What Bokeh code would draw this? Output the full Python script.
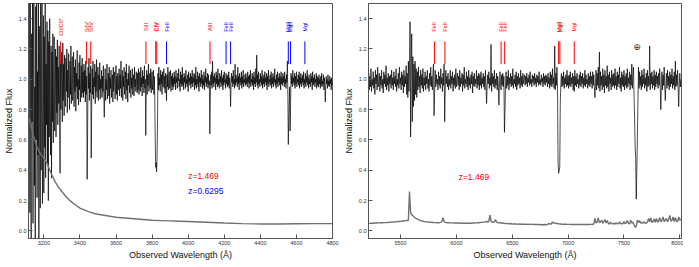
import numpy as np
from bokeh.plotting import figure
from bokeh.layouts import row
from bokeh.models import Range1d, FixedTicker, Label, ColumnDataSource, PrintfTickFormatter
from bokeh.embed import file_html
from bokeh.resources import INLINE
from bokeh.core.properties import value

FONT = "Liberation Sans"

# ---------------- data: left panel (blue arm) ----------------
left_wl_start, left_wl_step = 3120, 2.5
left_flux = [
    1.62, 0.12, 1.85, 0.45, -0.08, 1.30, 0.72, 1.55, 0.05, 1.20, 1.75, 0.30, 0.95, -0.10, 1.48, 0.60, 1.90, 0.22, 1.05, 0.50,
    1.68, -0.05, 1.35, 0.80, 0.15, 1.58, 0.40, 1.15, 1.72, 0.18, 0.88, 1.42, 0.25, 1.28, 0.55, 1.50, 0.35, 1.10, 0.70, 1.38,
    0.45, 1.32, 0.20, 1.25, 0.62, 1.40, 0.85, 0.50, 1.22, 0.35, 1.18, 0.72, 1.30, 0.58, 1.05, 1.28, 0.66, 0.90, 1.20, 0.62,
    1.15, 0.78, 1.26, 0.70, 1.08, 0.84, 1.22, 0.74, 0.38, 1.12, 0.80, 1.18, 0.95, 0.72, 1.24, 0.86, 1.10, 0.76, 1.16, 0.88,
    0.82, 1.14, 0.92, 1.20, 0.78, 1.06, 0.88, 1.17, 0.96, 0.80, 1.12, 0.90, 1.22, 0.84, 1.02, 1.15, 0.86, 0.94, 1.18, 0.82,
    1.08, 0.92, 1.13, 0.79, 1.04, 0.95, 1.19, 0.87, 1.00, 0.83, 1.11, 0.93, 1.16, 0.85, 0.98, 1.09, 0.88, 1.14, 0.91, 1.05,
    0.88, 1.10, 0.92, 1.06, 0.85, 1.12, 0.90, 1.02, 0.34, 0.62, 1.08, 0.94, 1.14, 0.86, 1.04, 0.91, 1.09, 0.48, 0.80, 1.07,
    0.90, 1.12, 0.87, 1.01, 0.95, 1.10, 0.84, 1.05, 0.92, 1.13, 0.88, 0.99, 1.08, 0.86, 1.03, 0.93, 1.11, 0.87, 1.00, 0.94,
    1.06, 0.88, 1.02, 0.92, 1.09, 0.90, 0.75, 0.95, 1.07, 0.86, 1.00, 0.93, 1.10, 0.87, 0.97, 1.04, 0.89, 1.08, 0.84, 1.01,
    0.94, 1.06, 0.88, 0.98, 1.03, 0.85, 1.08, 0.92, 0.99, 1.05, 0.87, 0.96, 1.09, 0.90, 1.02, 0.86, 1.04, 0.93, 0.98, 1.07,
    0.89, 1.03, 0.94, 1.12, 0.88, 0.99, 1.06, 0.86, 1.02, 0.95, 1.08, 0.90, 0.97, 1.05, 0.87, 1.10, 0.93, 1.00, 0.85, 1.04,
    0.96, 1.09, 0.91, 0.98, 1.06, 0.88, 1.01, 0.94, 1.07, 0.90, 0.97, 1.03, 0.89, 1.08, 0.95, 1.00, 0.92, 1.05, 0.97, 0.91,
    1.04, 0.93, 1.07, 0.90, 0.99, 1.05, 0.92, 1.08, 0.95, 1.01, 0.89, 1.06, 0.97, 1.02, 0.91, 1.09, 0.94, 1.00, 0.63, 0.93,
    1.06, 0.90, 1.03, 0.96, 1.10, 0.92, 0.99, 1.04, 0.94, 1.07, 0.91, 1.00, 1.05, 0.93, 0.98, 1.06, 0.90, 1.02, 0.88, 0.60,
    0.42, 0.45, 0.39, 0.48, 0.70, 1.04, 0.93, 1.08, 0.96, 1.01, 0.92, 1.06, 0.97, 1.03, 0.90, 1.05, 0.95, 0.99, 1.07, 0.94,
    1.02, 0.91, 1.04, 0.97, 0.86, 1.03, 0.95, 1.08, 0.93, 1.00, 1.05, 0.94, 0.98, 1.06, 0.92, 1.02, 0.96, 1.04, 0.93, 1.01,
    0.95, 1.05, 0.97, 1.02, 0.93, 1.06, 0.98, 1.01, 0.94, 1.04, 0.99, 1.07, 0.95, 1.00, 0.92, 1.05, 0.97, 1.03, 0.95, 1.08,
    0.96, 1.01, 0.93, 1.04, 0.98, 1.02, 0.94, 1.06, 0.97, 1.00, 0.95, 1.03, 0.92, 1.05, 0.98, 1.01, 0.96, 1.04, 0.94, 1.02,
    0.97, 1.06, 0.95, 1.01, 0.98, 1.04, 0.93, 1.03, 0.96, 1.08, 0.94, 1.00, 0.97, 1.05, 0.95, 1.02, 0.92, 1.04, 0.98, 1.01,
    0.95, 1.06, 0.97, 1.03, 0.94, 1.00, 0.96, 1.05, 0.93, 1.02, 0.98, 1.07, 0.95, 1.01, 0.97, 1.04, 0.94, 1.03, 0.96, 0.99,
    0.64, 0.85, 1.03, 0.96, 1.05, 0.94, 1.12, 0.97, 1.02, 0.95, 1.04, 0.98, 1.01, 0.93, 1.05, 0.97, 1.03, 0.95, 1.07, 0.96,
    1.00, 0.94, 1.04, 0.98, 1.02, 0.95, 1.06, 0.97, 1.01, 0.93, 1.03, 0.96, 1.05, 0.98, 1.00, 0.94, 1.04, 0.97, 1.02, 0.95,
    1.03, 0.96, 1.05, 0.94, 1.01, 0.97, 0.82, 0.95, 1.04, 0.98, 1.02, 0.95, 1.06, 0.97, 1.00, 0.94, 1.10, 0.96, 1.03, 0.98,
    1.01, 0.95, 1.08, 0.97, 1.02, 0.93, 1.04, 0.98, 1.01, 0.96, 1.05, 0.94, 1.02, 0.97, 1.06, 0.95, 1.00, 0.98, 1.03, 0.96,
    1.04, 0.97, 1.01, 0.95, 1.05, 0.98, 1.02, 0.94, 1.03, 0.97, 1.06, 0.95, 1.00, 0.98, 1.04, 0.96, 1.02, 0.93, 1.05, 0.97,
    1.01, 0.95, 1.07, 0.98, 1.16, 0.96, 1.03, 0.94, 1.05, 0.97, 1.00, 0.95, 1.04, 0.98, 1.02, 0.96, 1.06, 0.94, 1.01, 0.97,
    1.03, 0.95, 1.05, 0.98, 1.01, 0.96, 1.04, 0.93, 1.02, 0.97, 1.06, 0.95, 1.00, 0.98, 1.03, 0.96, 1.05, 0.94, 1.01, 0.97,
    1.04, 0.95, 1.02, 0.98, 1.07, 0.96, 1.00, 0.94, 1.03, 0.97, 1.05, 0.95, 1.01, 0.98, 1.04, 0.96, 1.02, 0.93, 1.05, 0.97,
    1.01, 0.96, 1.04, 0.98, 1.02, 0.95, 1.05, 0.97, 1.00, 0.94, 1.03, 0.98, 1.12, 0.90, 0.57, 0.72, 0.85, 0.95, 0.66, 0.82,
    1.04, 0.97, 1.02, 0.95, 1.06, 0.98, 1.01, 0.96, 1.04, 0.94, 1.02, 0.97, 1.05, 0.95, 1.00, 0.98, 1.03, 0.96, 1.05, 0.94,
    1.02, 0.97, 1.04, 0.95, 1.01, 0.98, 1.03, 0.96, 1.05, 0.94, 1.00, 0.97, 1.04, 0.95, 1.02, 0.98, 1.06, 0.96, 1.01, 0.94,
    1.03, 0.97, 1.00, 0.95, 1.04, 0.98, 1.02, 0.93, 1.05, 0.96, 1.01, 0.97, 1.03, 0.95, 1.00, 0.98, 1.04, 0.94, 1.02, 0.96,
    1.01, 0.95, 1.03, 0.97, 1.00, 0.94, 1.02, 0.96, 1.04, 0.95, 0.99, 0.97, 1.03, 0.93, 1.01, 0.96, 0.85, 0.95, 1.02, 0.97,
    1.00, 0.94, 1.03, 0.96, 0.99, 0.95, 1.02, 0.97, 1.00, 0.93, 1.01, 0.96, 0.98,
]
left_err_wl = [3120, 3140, 3160, 3180, 3200, 3220, 3240, 3260, 3280, 3300, 3320, 3340, 3360, 3380, 3400,
               3420, 3440, 3460, 3480, 3500, 3550, 3600, 3650, 3700, 3750, 3800, 3850, 3900, 3950, 4000,
               4100, 4200, 4300, 4400, 4500, 4600, 4700, 4800]
left_err = [0.74, 0.64, 0.56, 0.51, 0.48, 0.44, 0.38, 0.33, 0.29, 0.26, 0.23, 0.205, 0.185, 0.168, 0.15,
            0.14, 0.13, 0.122, 0.115, 0.11, 0.10, 0.09, 0.085, 0.08, 0.075, 0.07, 0.068, 0.066, 0.064, 0.062,
            0.057, 0.052, 0.048, 0.046, 0.046, 0.047, 0.048, 0.048]

left_red_wl = [3293, 3437, 3460, 3766, 3820, 3826, 4121]
left_red_lab = ["CII/CII*", "SiIV", "SiIV", "SiII", "CIV", "CIV", "AlII"]
left_blue_wl = [3880, 4210, 4235, 4555, 4567, 4647]
left_blue_lab = ["FeII", "FeII", "FeII", "MgII", "MgII", "MgI"]
left_xticks = [3200, 3400, 3600, 3800, 4000, 4200, 4400, 4600, 4800]

# ---------------- data: right panel (red arm) ----------------
right_wl_start, right_wl_step = 5210, 5
right_flux = [
    0.97, 1.04, 0.93, 1.02, 0.95, 1.07, 0.92, 1.00, 0.96, 1.05, 0.94, 1.01, 0.90, 1.06, 0.97, 1.03, 0.93, 1.08, 0.95, 0.99,
    1.04, 0.92, 1.02, 0.96, 1.06, 0.94, 1.00, 0.91, 1.05, 0.97, 1.03, 0.95, 1.09, 0.93, 1.01, 0.96, 1.04, 0.92, 1.02, 0.97,
    1.03, 0.94, 1.06, 0.96, 1.01, 0.93, 1.05, 0.97, 1.02, 0.95, 1.07, 0.92, 1.00, 0.96, 1.04, 0.94, 1.08, 0.97, 1.01, 0.93,
    1.05, 0.96, 1.03, 0.91, 1.06, 0.95, 1.02, 0.97, 1.09, 0.90, 1.04, 0.88, 1.12, 0.92, 1.06, 1.38, 0.62, 1.10, 1.30, 0.72,
    1.15, 0.82, 1.10, 0.86, 1.12, 0.90, 1.07, 0.88, 1.05, 0.93, 1.08, 0.95, 1.02, 0.91, 1.06, 0.96, 1.03, 0.94, 1.07, 0.92,
    1.01, 0.96, 1.05, 0.93, 1.02, 0.97, 1.06, 0.94, 1.00, 0.92, 1.04, 0.96, 1.08, 0.95, 1.02, 0.93, 1.05, 1.10, 0.76, 0.92,
    1.06, 0.95, 1.03, 0.97, 1.00, 0.93, 1.05, 0.96, 1.02, 0.94, 1.07, 0.97, 1.01, 0.92, 1.04, 0.96, 1.10, 0.72, 0.94, 1.06,
    0.97, 1.02, 0.95, 1.04, 0.93, 1.00, 0.96, 1.06, 0.94, 1.02, 0.97, 1.05, 0.92, 1.01, 0.96, 1.03, 0.94, 1.07, 0.95, 1.00,
    1.04, 0.96, 1.02, 0.93, 1.06, 0.95, 1.01, 0.97, 1.04, 0.92, 1.03, 0.96, 1.08, 0.94, 1.00, 0.97, 1.05, 0.95, 1.02, 0.93,
    1.06, 0.96, 1.01, 0.94, 1.03, 0.97, 1.05, 0.91, 1.02, 0.96, 1.04, 0.95, 1.00, 0.97, 1.06, 0.94, 1.02, 0.96, 1.04, 0.93,
    1.03, 0.96, 1.05, 0.94, 1.01, 0.97, 1.04, 0.95, 1.02, 0.93, 1.06, 0.96, 0.84, 0.95, 1.03, 0.97, 1.05, 0.94, 1.01, 0.96,
    1.23, 0.92, 1.04, 0.97, 1.02, 0.95, 1.06, 0.94, 1.00, 0.96, 1.04, 0.93, 1.02, 0.97, 0.83, 0.95, 1.05, 0.97, 0.93, 1.03,
    0.96, 1.04, 0.95, 1.02, 0.65, 0.80, 0.97, 1.05, 0.94, 1.02, 0.96, 1.06, 0.93, 1.01, 0.97, 1.04, 0.95, 1.02, 0.96, 1.07,
    0.94, 1.00, 0.97, 1.03, 0.95, 1.05, 0.93, 1.02, 0.96, 1.04, 0.97, 1.01, 0.94, 1.06, 0.96, 1.02, 0.95, 1.04, 0.97, 1.00,
    1.03, 0.96, 1.02, 0.97, 1.04, 0.95, 1.01, 0.98, 1.03, 0.96, 1.05, 0.97, 1.00, 0.95, 1.03, 0.98, 1.02, 0.96, 1.04, 0.97,
    1.01, 0.95, 1.03, 0.98, 1.02, 0.96, 1.05, 0.97, 1.00, 0.96, 1.03, 0.98, 1.01, 0.95, 1.04, 0.97, 1.02, 0.96, 1.03, 0.98,
    1.02, 0.95, 1.04, 0.97, 1.01, 0.94, 1.05, 0.96, 1.03, 0.95, 1.07, 0.97, 1.01, 0.94, 1.22, 0.93, 1.04, 0.96, 1.08, 0.94,
    0.45, 0.38, 0.40, 0.42, 0.85, 0.97, 1.04, 0.95, 1.02, 0.96, 1.05, 0.94, 1.01, 0.97, 1.03, 0.95, 1.06, 0.96, 1.02, 0.94,
    1.03, 0.96, 1.05, 0.95, 1.01, 0.97, 1.04, 0.93, 1.02, 0.92, 1.06, 0.96, 1.02, 0.95, 1.04, 0.97, 1.00, 0.94, 1.03, 0.96,
    1.05, 0.95, 1.02, 0.97, 1.04, 0.94, 1.01, 0.96, 1.06, 0.95, 1.03, 0.97, 1.00, 0.94, 1.04, 0.96, 1.02, 0.95, 1.05, 0.97,
    1.02, 0.94, 1.05, 0.96, 1.03, 0.95, 0.88, 0.97, 1.06, 0.93, 1.04, 0.96, 1.08, 0.94, 1.18, 0.92, 1.05, 0.96, 1.02, 0.93,
    1.07, 0.95, 1.03, 0.91, 1.06, 0.96, 1.02, 0.94, 1.09, 0.95, 1.03, 0.92, 1.05, 0.97, 1.01, 0.93, 1.06, 0.95, 1.03, 0.96,
    1.04, 0.94, 1.07, 0.96, 1.02, 0.93, 1.05, 0.95, 1.03, 0.97, 1.08, 0.94, 1.01, 0.92, 1.05, 0.96, 1.03, 0.95, 1.06, 0.93,
    1.02, 0.96, 1.04, 0.94, 1.07, 0.95, 1.01, 0.97, 1.05, 0.93, 1.03, 0.96, 1.10, 0.94, 1.02, 1.08, 0.90, 0.75, 0.55, 0.48,
    0.21, 0.40, 0.62, 0.85, 1.08, 0.94, 1.05, 0.96, 1.02, 0.93, 1.06, 0.95, 1.03, 0.97, 1.07, 0.94, 1.01, 0.96, 1.04, 0.92,
    1.06, 0.95, 1.02, 0.96, 1.22, 0.93, 1.04, 0.97, 1.05, 0.94, 1.02, 0.96, 1.06, 0.93, 1.03, 0.95, 1.05, 0.97, 1.02, 0.94,
    1.04, 0.96, 1.07, 0.94, 0.80, 0.97, 1.05, 0.93, 1.03, 0.96, 1.08, 0.95, 0.86, 0.97, 1.04, 0.94, 1.06, 0.96, 1.02, 0.93,
    1.05, 0.95, 1.03, 0.97, 1.07, 0.94, 1.02, 0.96, 1.05, 0.93, 1.12, 0.95, 1.03, 0.96, 1.06, 0.94, 0.82, 0.97, 1.04, 0.95,
    1.00,
]
right_err_start, right_err_step = 5210, 10
right_err = [
    0.050, 0.050, 0.050, 0.051, 0.051, 0.051, 0.052, 0.052, 0.052, 0.053, 0.053, 0.053, 0.054, 0.054, 0.055, 0.055, 0.055, 0.056, 0.056, 0.057,
    0.057, 0.058, 0.058, 0.059, 0.060, 0.060, 0.061, 0.062, 0.062, 0.063, 0.064, 0.065, 0.066, 0.067, 0.068, 0.069, 0.070, 0.260, 0.120, 0.108,
    0.100, 0.093, 0.087, 0.082, 0.078, 0.074, 0.071, 0.068, 0.066, 0.064, 0.062, 0.061, 0.060, 0.059, 0.058, 0.057, 0.057, 0.056, 0.056, 0.055,
    0.055, 0.055, 0.054, 0.054, 0.055, 0.056, 0.062, 0.088, 0.062, 0.056, 0.055, 0.054, 0.054, 0.053, 0.053, 0.053, 0.053, 0.052, 0.052, 0.052,
    0.052, 0.052, 0.052, 0.051, 0.051, 0.051, 0.051, 0.051, 0.051, 0.051, 0.051, 0.051, 0.051, 0.052, 0.052, 0.052, 0.053, 0.053, 0.054, 0.054,
    0.055, 0.056, 0.057, 0.058, 0.058, 0.060, 0.064, 0.058, 0.062, 0.104, 0.065, 0.058, 0.057, 0.060, 0.074, 0.058, 0.055, 0.054, 0.053, 0.052,
    0.052, 0.051, 0.050, 0.049, 0.048, 0.050, 0.047, 0.046, 0.049, 0.046, 0.045, 0.047, 0.045, 0.046, 0.045, 0.044, 0.046, 0.044, 0.044, 0.045,
    0.044, 0.044, 0.043, 0.044, 0.043, 0.043, 0.045, 0.043, 0.043, 0.042, 0.042, 0.043, 0.042, 0.042, 0.041, 0.042, 0.041, 0.041, 0.042, 0.041,
    0.042, 0.044, 0.050, 0.045, 0.046, 0.060, 0.051, 0.053, 0.049, 0.050, 0.048, 0.046, 0.046, 0.045, 0.044, 0.045, 0.044, 0.044, 0.043, 0.043,
    0.043, 0.043, 0.042, 0.043, 0.042, 0.042, 0.043, 0.042, 0.042, 0.042, 0.043, 0.042, 0.042, 0.042, 0.042, 0.043, 0.042, 0.043, 0.042, 0.043,
    0.043, 0.044, 0.045, 0.082, 0.052, 0.058, 0.085, 0.055, 0.060, 0.072, 0.050, 0.062, 0.075, 0.052, 0.068, 0.050, 0.045, 0.058, 0.048, 0.046,
    0.050, 0.045, 0.055, 0.046, 0.048, 0.060, 0.046, 0.050, 0.046, 0.062, 0.048, 0.052, 0.068, 0.050, 0.046, 0.070, 0.052, 0.058, 0.040, 0.025,
    0.030, 0.072, 0.055, 0.068, 0.050, 0.058, 0.050, 0.060, 0.052, 0.050, 0.058, 0.082, 0.060, 0.085, 0.055, 0.062, 0.078, 0.056, 0.082, 0.058,
    0.065, 0.088, 0.060, 0.072, 0.092, 0.062, 0.070, 0.082, 0.060, 0.075, 0.102, 0.065, 0.070, 0.092, 0.062, 0.088, 0.066, 0.060, 0.092, 0.070,
    0.080,
]
right_red_wl = [5803, 5897, 6400, 6432, 6915, 6926, 7055]
right_red_lab = ["FeII", "FeII", "FeII", "FeII", "MgII", "MgII", "MgI"]
right_xticks = [5500, 6000, 6500, 7000, 7500, 8000]

yticks = [0.0, 0.2, 0.4, 0.6, 0.8, 1.0, 1.2, 1.4]

# marker geometry (style)
TICK_Y0, TICK_Y1, LABEL_Y = 1.10, 1.25, 1.345
AX_COLOR = "#555555"
FIG_H = 262


def style_axis(ax):
    ax.axis_line_color = AX_COLOR
    ax.major_tick_line_color = AX_COLOR
    ax.major_tick_in = 4
    ax.major_tick_out = 0
    ax.minor_tick_in = 0
    ax.minor_tick_out = 0
    ax.major_label_text_font = FONT
    ax.major_label_text_font_size = "5.5px"
    ax.major_label_text_color = "#333333"
    ax.major_label_standoff = 2
    ax.axis_label_text_font = FONT
    ax.axis_label_text_font_size = "9px"
    ax.axis_label_text_font_style = "normal"
    ax.axis_label_text_color = "#111111"
    ax.axis_label_standoff = 2


def make_panel(width, xr, xticks, border_right):
    p = figure(width=width, height=FIG_H, x_range=Range1d(*xr), y_range=Range1d(-0.05, 1.5),
               output_backend="svg", toolbar_location=None,
               min_border_left=24, min_border_right=border_right, min_border_top=3, min_border_bottom=0)
    p.xgrid.visible = False
    p.ygrid.visible = False
    p.outline_line_color = AX_COLOR
    p.outline_line_width = 1
    p.background_fill_color = "white"
    p.border_fill_color = "white"
    p.xaxis.ticker = FixedTicker(ticks=xticks)
    p.yaxis.ticker = FixedTicker(ticks=yticks)
    p.yaxis.formatter = PrintfTickFormatter(format="%.1f")
    p.xaxis.axis_label = "Observed Wavelength (Å)"
    p.yaxis.axis_label = "Normalized Flux"
    style_axis(p.xaxis[0])
    style_axis(p.yaxis[0])
    return p


def draw_markers(p, wl, labels, color):
    src = ColumnDataSource(dict(x=wl, text=labels))
    p.segment(x0="x", y0=TICK_Y0, x1="x", y1=TICK_Y1, source=src, line_color=color, line_width=1)
    p.text(x="x", y=LABEL_Y, text="text", source=src, angle=np.pi / 2,
           text_align="center", text_baseline="middle", text_color=color,
           text_font=value(FONT), text_font_size="5.5px")


# ---------------- left panel ----------------
lw = left_wl_start + left_wl_step * np.arange(len(left_flux))
p1 = make_panel(340, (3115, 4800), left_xticks, 8)
p1.line(lw, left_flux, line_color="black", line_width=0.7)
p1.line(left_err_wl, left_err, line_color="#707070", line_width=1.4)
draw_markers(p1, left_red_wl, left_red_lab, "red")
draw_markers(p1, left_blue_wl, left_blue_lab, "blue")
p1.add_layout(Label(x=4000, y=0.36, text="z=1.469", text_color="red", text_font=FONT,
                    text_font_size="8.5px", text_baseline="middle"))
p1.add_layout(Label(x=4000, y=0.265, text="z=0.6295", text_color="blue", text_font=FONT,
                    text_font_size="8.5px", text_baseline="middle"))

# ---------------- right panel ----------------
rw = right_wl_start + right_wl_step * np.arange(len(right_flux))
rew = right_err_start + right_err_step * np.arange(len(right_err))
p2 = make_panel(343, (5213, 8015), right_xticks, 2)
p2.line(rw, right_flux, line_color="black", line_width=0.7)
p2.line(rew, right_err, line_color="#707070", line_width=1.4)
draw_markers(p2, right_red_wl, right_red_lab, "red")
p2.add_layout(Label(x=6020, y=0.355, text="z=1.469", text_color="red", text_font=FONT,
                    text_font_size="8.5px", text_baseline="middle"))
p2.add_layout(Label(x=7617, y=1.21, text="⊕", text_color="#333333", text_font="DejaVu Sans",
                    text_font_size="9px", text_align="center", text_baseline="middle"))

layout = row(p1, p2)
open("out.html", "w").write(file_html(layout, INLINE))
